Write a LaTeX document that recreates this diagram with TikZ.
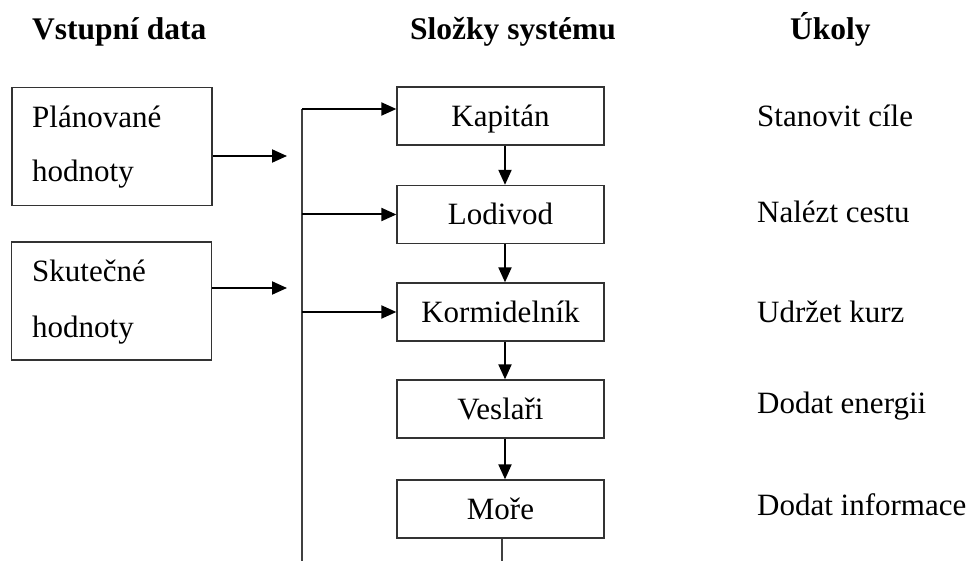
\documentclass[tikz,border=0pt]{standalone}
\usepackage{fontspec}
\setmainfont{Liberation Serif}
\usetikzlibrary{arrows.meta}
\begin{document}
\begin{tikzpicture}[x=1pt,y=-1pt,
  every node/.style={font=\fontsize{31}{37}\selectfont, inner sep=0pt},
  box/.style={draw=black!80, line width=1.3pt, rectangle},
  sysbox/.style={box, minimum width=207pt, minimum height=58pt, text height=28pt, text depth=7pt},
  inbox/.style={box, minimum width=200pt, minimum height=118pt},
  head/.style={anchor=base west, font=\fontsize{31.5}{37}\selectfont\bfseries},
  txt/.style={anchor=base west},
  arr/.style={line width=2pt, -{Triangle[length=15pt,width=13pt]}},
  ln/.style={line width=2pt, draw=black!75}
]
\useasboundingbox (0,0) rectangle (974,561);

% headers
\node[head] (h1) at (32,40) {Vstupní data};
\node[head] (h2) at (410,40) {Složky systému};
\node[head] (h3) at (790,40) {Úkoly};

% input boxes
\node[inbox] (plan) at (112,146.5) {};
\node[txt] (plan1) at (32,128) {Plánované};
\node[txt] (plan2) at (32,182) {hodnoty};
\node[inbox] (skut) at (111.5,301) {};
\node[txt] (skut1) at (32,282) {Skutečné};
\node[txt] (skut2) at (32,337) {hodnoty};

\coordinate (pin) at (287,156);
\coordinate (sin) at (287,288);
\draw[arr] (plan.east |- pin) -- (pin);
\draw[arr] (skut.east |- sin) -- (sin);

% system boxes
\node[sysbox] (kap) at (500.5,116) {Kapitán};
\node[sysbox] (lod) at (500.5,214.5) {Lodivod};
\node[sysbox] (kor) at (500.5,312) {Kormidelník};
\node[sysbox] (ves) at (500.5,409) {Veslaři};
\node[sysbox] (more) at (500.5,509) {Moře};

% bus line
\coordinate (bt) at (302,109);
\coordinate (bb) at (302,561);
\draw[ln] (bt) -- (bb);
\draw[arr] (bt) -- (kap.west |- bt);
\draw[arr] (302,214.5) -- (lod.west);
\draw[arr] (302,312) -- (kor.west);

% chain arrows
\coordinate (cx) at (505,0);
\draw[arr] (cx |- kap.south) -- (cx |- lod.north);
\draw[arr] (cx |- lod.south) -- (cx |- kor.north);
\draw[arr] (cx |- kor.south) -- (cx |- ves.north);
\draw[arr] (cx |- ves.south) -- (cx |- more.north);
\coordinate (mend) at (502,561);
\draw[ln, line width=1.5pt] (mend |- more.south) -- (mend);

% tasks
\node[txt] (t1) at (757,127) {Stanovit cíle};
\node[txt] (t2) at (757,223) {Nalézt cestu};
\node[txt] (t3) at (757,322) {Udržet kurz};
\node[txt] (t4) at (757,413) {Dodat energii};
\node[txt] (t5) at (757,515) {Dodat informace};
\end{tikzpicture}
\end{document}
